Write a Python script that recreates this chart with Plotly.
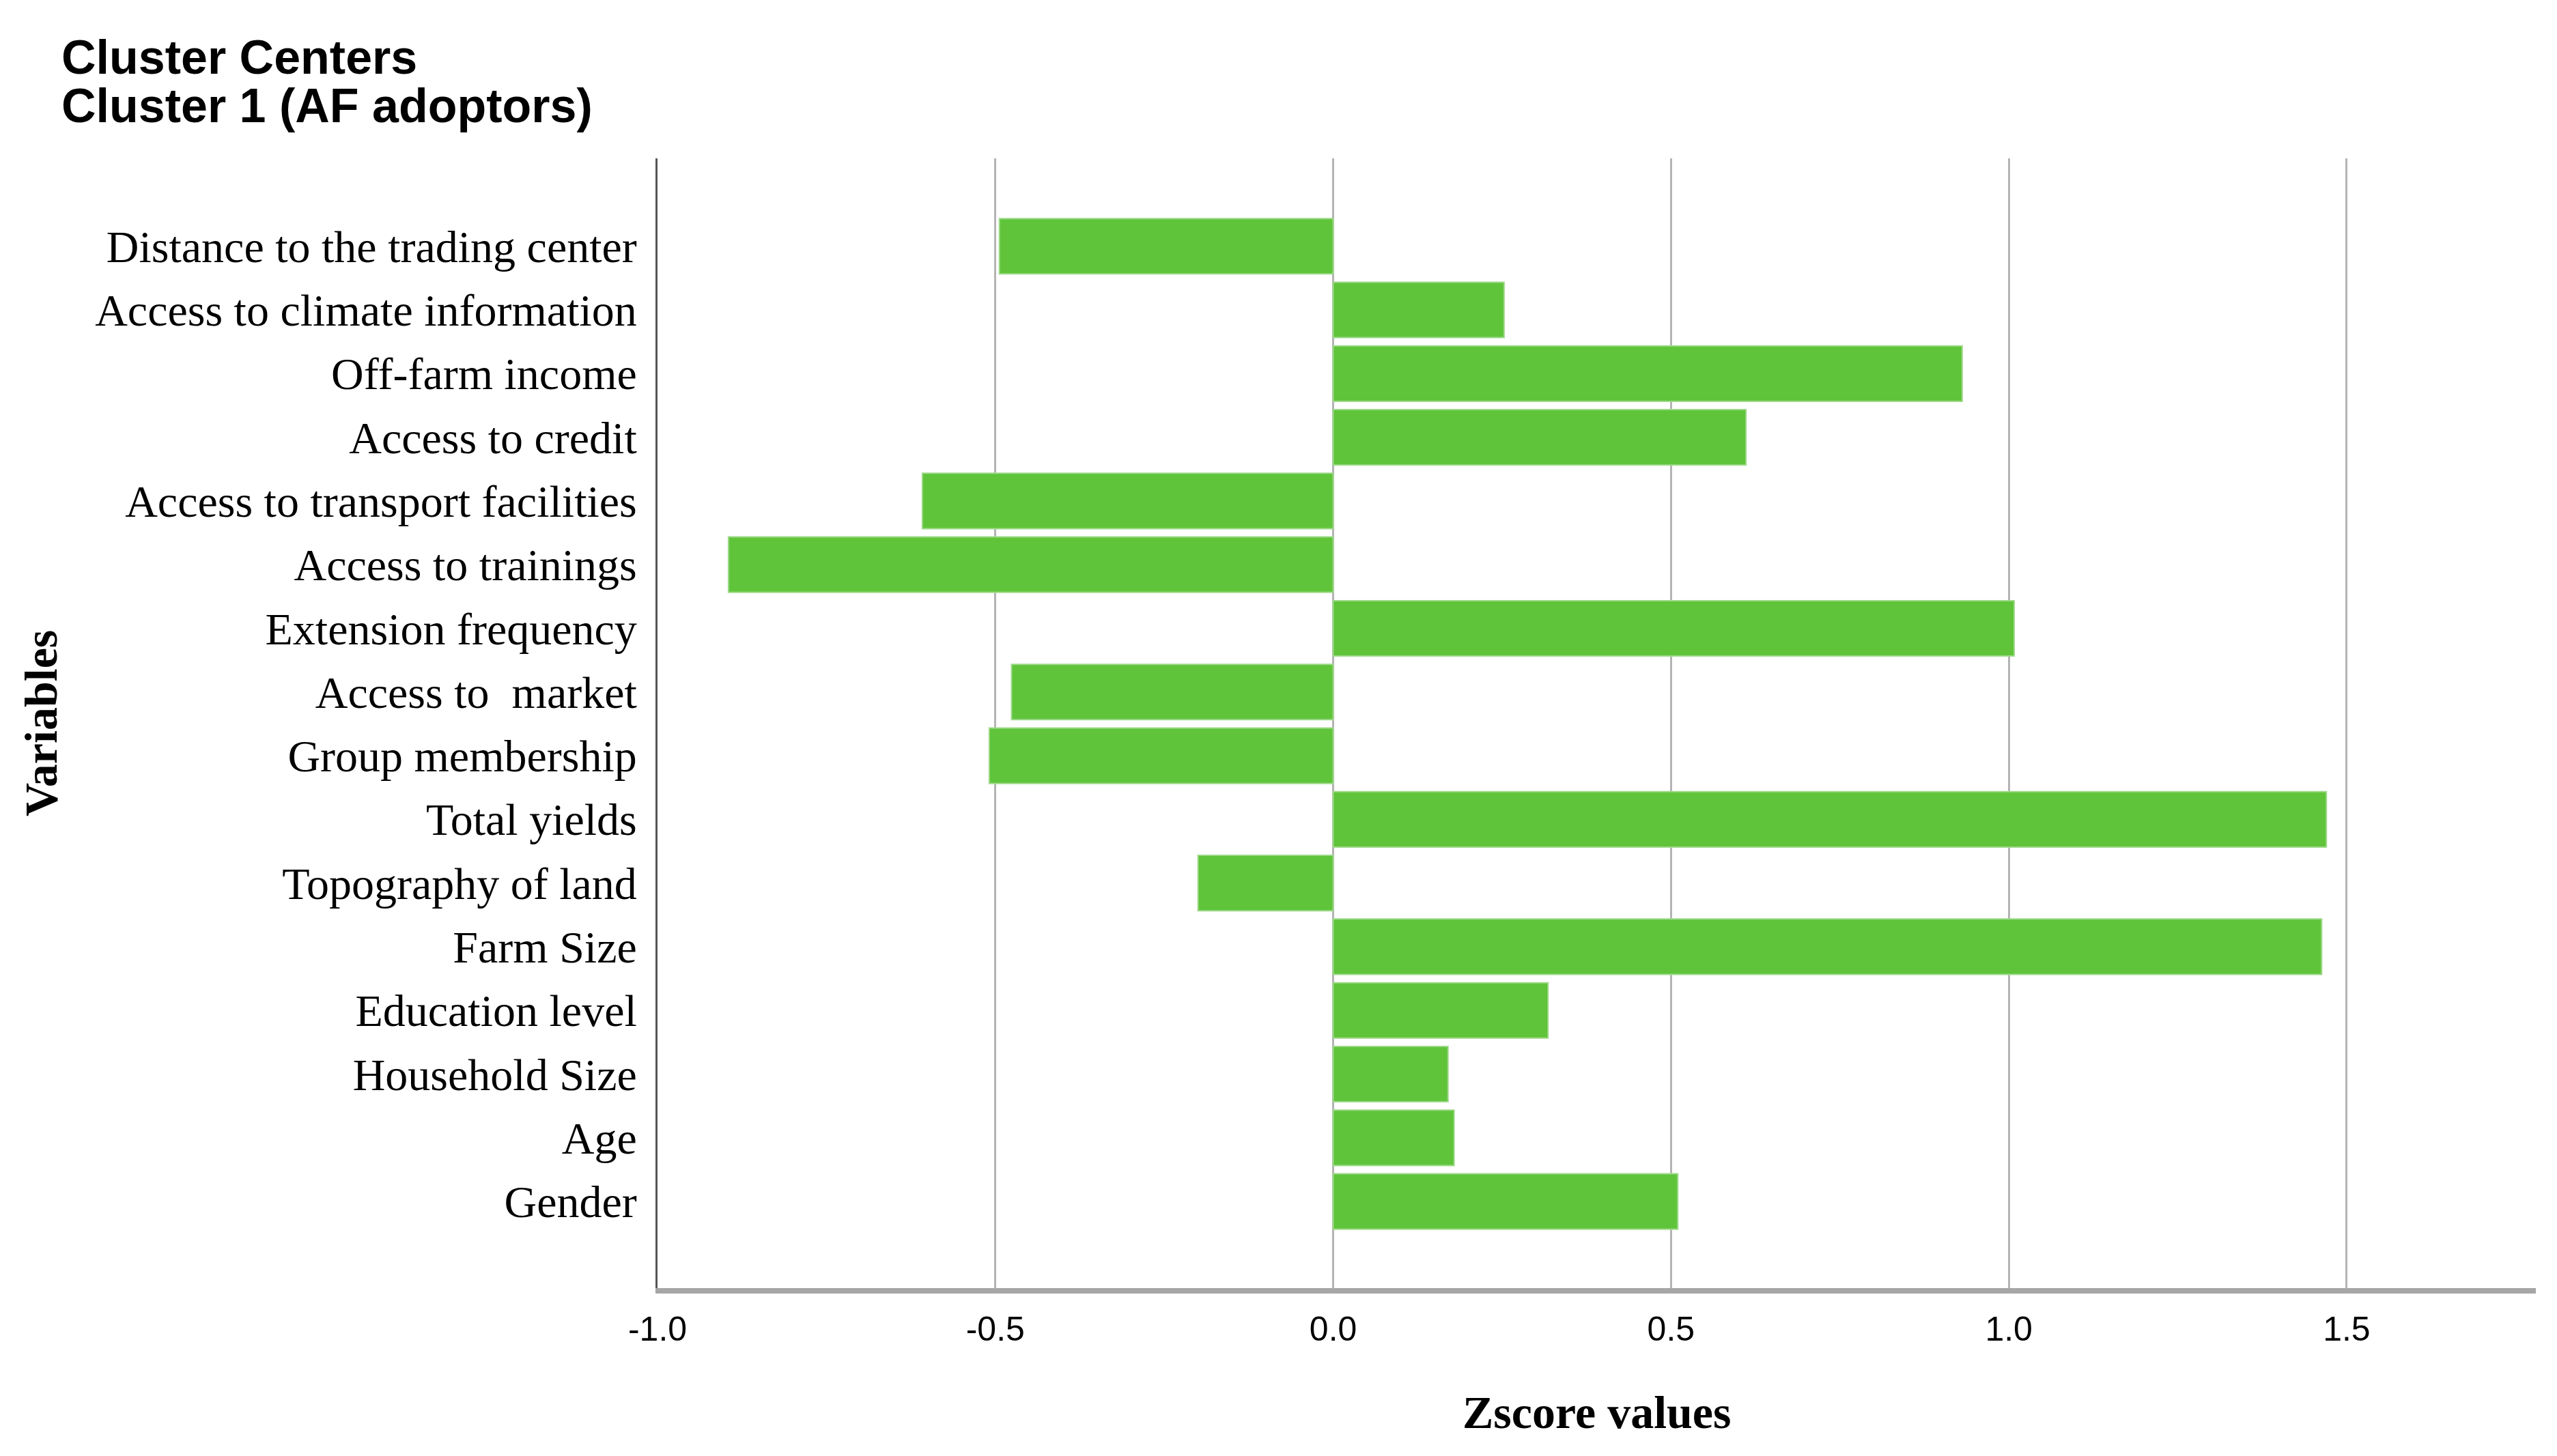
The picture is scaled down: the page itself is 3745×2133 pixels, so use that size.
import plotly.graph_objects as go

variables = [
    "Distance to the trading center",
    "Access to climate information",
    "Off-farm income",
    "Access to credit",
    "Access to transport facilities",
    "Access to trainings",
    "Extension frequency",
    "Access to  market",
    "Group membership",
    "Total yields",
    "Topography of land",
    "Farm Size",
    "Education level",
    "Household Size",
    "Age",
    "Gender",
]
zscores = [-0.494, 0.253, 0.931, 0.611, -0.608, -0.895, 1.008, -0.476, -0.509,
           1.470, -0.200, 1.463, 0.318, 0.170, 0.179, 0.510]

tick_vals = [-1.0, -0.5, 0.0, 0.5, 1.0, 1.5]
tick_text = ["-1.0", "-0.5", "0.0", "0.5", "1.0", "1.5"]

W, H = 3745, 2133
L, R, T, B = 955, 39, 224, 254
pw = W - L - R
ph = H - T - B

def px_x(x):
    return (x - L) / pw

def px_y(y):
    return (H - B - y) / ph

fig = go.Figure()
fig.add_trace(go.Bar(
    x=zscores, y=variables, orientation="h",
    marker=dict(color="#5fc43a", line=dict(color="#9fd98a", width=2)),
    showlegend=False,
))

fig.update_layout(
    width=W, height=H,
    margin=dict(l=L, r=R, t=T, b=B, autoexpand=False),
    paper_bgcolor="white", plot_bgcolor="white",
    bargap=0.13,
    xaxis=dict(
        range=[-1.0, 1.78],
        tickvals=tick_vals, ticktext=tick_text,
        showgrid=True, gridcolor="#b4b4b4", gridwidth=3,
        zeroline=True, zerolinecolor="#b4b4b4", zerolinewidth=3,
        showline=True, linecolor="#a6a6a6", linewidth=8,
        ticks="", ticklabelstandoff=9,
        tickfont=dict(family="Liberation Sans, Arial", size=50, color="black"),
    ),
    yaxis=dict(
        categoryorder="array", categoryarray=variables,
        range=[16.36, -1.38],
        showgrid=False, zeroline=False,
        showline=True, linecolor="#555555", linewidth=3,
        ticks="", ticklabelstandoff=14,
        tickfont=dict(family="Liberation Serif, Times New Roman", size=66, color="black"),
    ),
    annotations=[
        dict(text="Cluster Centers", xref="paper", yref="paper",
             x=px_x(80), y=px_y(76), xanchor="left", yanchor="middle",
             showarrow=False,
             font=dict(family="Liberation Sans, Arial", size=70, color="black", weight="bold")),
        dict(text="Cluster 1 (AF adoptors)", xref="paper", yref="paper",
             x=px_x(80), y=px_y(147), xanchor="left", yanchor="middle",
             showarrow=False,
             font=dict(family="Liberation Sans, Arial", size=70, color="black", weight="bold")),
        dict(text="Variables", xref="paper", yref="paper",
             x=px_x(52), y=px_y(1052), xanchor="center", yanchor="middle",
             textangle=-90, showarrow=False,
             font=dict(family="Liberation Serif, Times New Roman", size=68, color="black", weight="bold")),
        dict(text="Zscore values", xref="paper", yref="paper",
             x=0.5, y=px_y(2061), xanchor="center", yanchor="middle",
             showarrow=False,
             font=dict(family="Liberation Serif, Times New Roman", size=68, color="black", weight="bold")),
    ],
)

fig.write_html("out.html")
